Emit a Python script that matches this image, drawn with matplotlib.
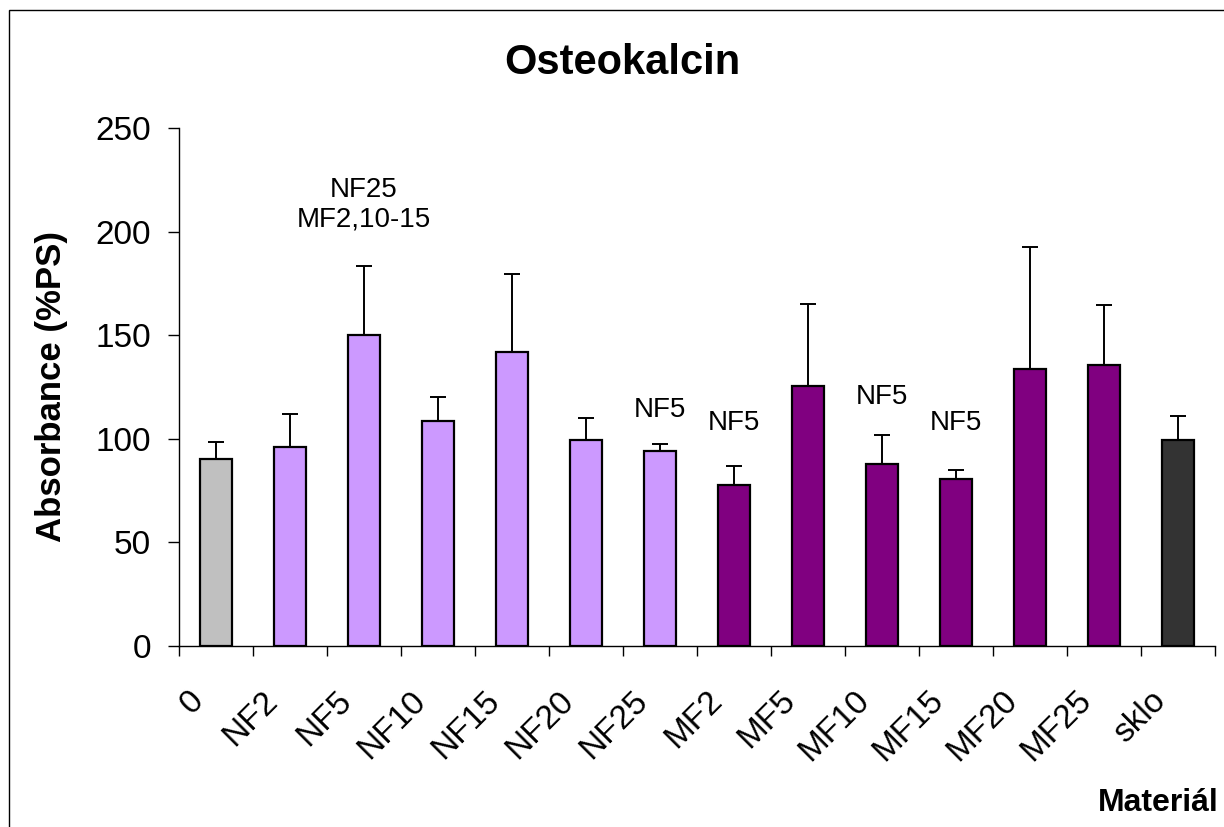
import matplotlib
matplotlib.use("Agg")
import matplotlib.pyplot as plt
from matplotlib.patches import Rectangle
from matplotlib.transforms import ScaledTranslation
import numpy as np

plt.rcParams['font.family'] = ['Liberation Sans', 'DejaVu Sans']

categories = ["0", "NF2", "NF5", "NF10", "NF15", "NF20", "NF25",
              "MF2", "MF5", "MF10", "MF15", "MF20", "MF25", "sklo"]
means = [90.1, 96.2, 150.1, 108.7, 142.0, 99.4, 94.3,
         77.7, 125.4, 88.0, 80.7, 133.8, 135.6, 99.4]
errors = [8.4, 15.8, 33.3, 11.6, 37.4, 10.5, 3.2,
          9.2, 39.5, 13.7, 4.2, 58.9, 29.1, 11.6]
colors = ["#C0C0C0"] + ["#CC99FF"] * 6 + ["#800080"] * 6 + ["#333333"]

# significance notes placed above selected bars: (category index, y value, text)
notes = [(2, 213, "NF25\nMF2,10-15"),
         (6, 114, "NF5"),
         (7, 107.5, "NF5"),
         (9, 120.3, "NF5"),
         (10, 107.5, "NF5")]

W, H = 1224, 827
fig = plt.figure(figsize=(W / 100, H / 100), dpi=100)

# outer chart frame (right and bottom edges run past the canvas)
fig.patches.append(Rectangle((9 / W, -0.05), 2, 1.05 - 10 / H, transform=fig.transFigure,
                             fill=False, edgecolor="black", linewidth=1.0))

ax = fig.add_axes([179 / W, 1 - 646 / H, (1215 - 179) / W, (646 - 128) / H])
x = np.arange(len(categories))
ax.bar(x, means, width=0.42, color=colors, edgecolor="black", linewidth=1.6, zorder=2)
ax.errorbar(x, means, yerr=[np.zeros(len(errors)), errors], fmt="none",
            ecolor="black", elinewidth=1.4, capsize=6, capthick=1.4, zorder=3)

for i, yv, txt in notes:
    ax.text(i, yv, txt, ha="center", va="center", fontsize=20, linespacing=1.2)

ax.set_xlim(-0.5, len(categories) - 0.5)
ax.set_ylim(0, 250)
ax.set_yticks([0, 50, 100, 150, 200, 250])
ax.tick_params(axis="y", direction="out", length=8, width=1, labelsize=24, pad=12)

ax.set_xticks(np.arange(-0.5, len(categories)), labels=[])
ax.set_xticks(x, labels=categories, minor=True)
ax.tick_params(axis="x", which="major", direction="out", length=7.5, width=1)
ax.tick_params(axis="x", which="minor", length=0, labelsize=24, pad=36)
shift = ScaledTranslation(-17 / 100, 0, fig.dpi_scale_trans)
for lab in ax.get_xticklabels(minor=True):
    lab.set_rotation(45)
    lab.set_ha("right")
    lab.set_va("center")
    lab.set_rotation_mode("anchor")
    lab.set_transform(lab.get_transform() + shift)

for s in ("top", "right"):
    ax.spines[s].set_visible(False)
for s in ("left", "bottom"):
    ax.spines[s].set_linewidth(1.0)

ax.set_ylabel("Absorbance (%PS)", fontsize=25, fontweight="bold")
ax.yaxis.set_label_coords(-(179 - 52) / (1215 - 179), 0.5)
ax.yaxis.label.set_va("center")

fig.text(622 / W, 1 - 63 / H, "Osteokalcin", ha="center", va="center",
         fontsize=30, fontweight="bold")
fig.text(1219 / W, 1 - 803 / H, "Materiál", ha="right", va="center",
         fontsize=23, fontweight="bold")

fig.savefig("out.png", dpi=100)
